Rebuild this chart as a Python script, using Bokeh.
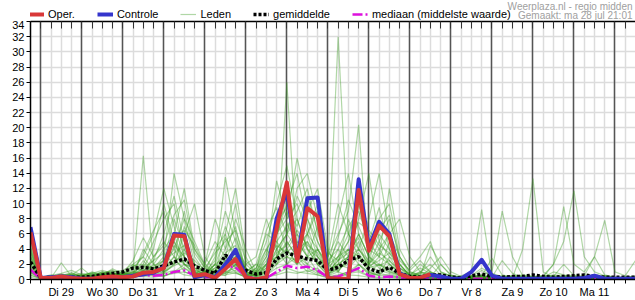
from bokeh.plotting import figure
from bokeh.layouts import column
from bokeh.models import (Range1d, FixedTicker, LinearAxis, Grid, Legend, LegendItem, Label)
from bokeh.embed import file_html
from bokeh.resources import INLINE

# 6-hourly steps; step 0 = ma 28 jul 18:00, step 1 = di 29 00:00, ...
n_steps = 60
steps = list(range(n_steps))
day_labels = ["Di 29", "Wo 30", "Do 31", "Vr 1", "Za 2", "Zo 3", "Ma 4",
              "Di 5", "Wo 6", "Do 7", "Vr 8", "Za 9", "Zo 10", "Ma 11"]
y_ticks = list(range(0, 35, 2))
legend_labels = ["Oper.", "Controle", "Leden", "gemiddelde", "mediaan (middelste waarde)"]
source_text = "Weerplaza.nl - regio midden"
made_text = "Gemaakt: ma 28 jul 21:01"

# values in groups: first step | one group of 4 steps per day | last 3 steps
def parse(s):
    return [float(t) for t in s.replace("|", " ").split()]

oper = parse("6.2 | 0.2 0.2 0.4 0.2 | 0.1 0.1 0.3 0.4 | 0.3 0.4 0.9 1.0 | 1.5 5.8 5.7 0.5 |"
             " 0.7 0.2 1.4 2.7 | 0.3 0.0 0.3 6.7 | 12.8 2.4 9.4 8.3 | 0.2 0.1 0.1 11.8 |"
             " 3.8 7.1 5.7 0.7 | 0.2 0.2 0.7")
controle = parse("6.9 | 0.2 0.3 0.4 0.3 | 0.1 0.1 0.1 0.2 | 0.3 0.5 0.7 0.9 | 1.6 6.0 5.9 0.3 |"
                 " 0.6 0.3 2.0 3.9 | 0.3 0.0 0.1 8.0 | 11.6 2.6 10.7 10.8 | 0.2 0.0 0.0 13.2 |"
                 " 4.2 7.6 6.0 0.8 | 0.2 0.2 0.6 0.4 | 0.1 0.1 1.0 2.6 | 0.5 0.1 0.1 0.1 |"
                 " 0.1 0.1 0.1 0.1 | 0.1 0.2 0.5 0.1 | 0.1 0.1 0.1")
gemiddelde = parse("2.3 | 0.2 0.3 0.4 0.3 | 0.3 0.4 0.6 0.8 | 1.0 1.5 1.6 1.4 | 1.8 2.3 2.7 1.8 |"
                   " 1.2 0.8 3.2 2.4 | 1.2 0.7 0.9 2.7 | 3.5 3.1 2.7 2.5 | 1.2 1.6 2.5 3.0 |"
                   " 1.4 1.0 1.6 0.8 | 0.4 0.3 0.6 0.6 | 0.3 0.2 0.5 0.7 | 0.4 0.3 0.4 0.4 |"
                   " 0.6 0.4 0.3 0.4 | 0.5 0.6 0.4 0.3 | 0.3 0.3 0.3")
mediaan = parse("1.3 | 0.1 0.1 0.2 0.1 | 0.1 0.1 0.2 0.3 | 0.3 0.4 0.6 0.5 | 0.6 1.0 1.2 0.5 |"
                " 0.3 0.3 1.8 1.6 | 0.4 0.1 0.2 1.0 | 1.8 1.5 1.7 1.2 | 0.3 0.4 0.9 1.5 |"
                " 0.5 0.3 0.4 0.3 | 0.1 0.1 0.1 0.1 | 0.0 0.0 0.1 0.1 | 0.1 0.1 0.1 0.1 |"
                " 0.1 0.1 0.1 0.1 | 0.1 0.1 0.1 0.1 | 0.1 0.1 0.1")

leden_txt = [
    "4.0 | 0.2 0.3 0.6 0.3 | 0.2 0.4 0.8 0.5 | 0.6 1.2 16.3 2.0 | 1.0 4.5 3.0 0.8 | 0.5 2.0 5.5 3.0 | 0.8 0.5 2.0 6.0 | 9.0 5.0 3.0 7.0 | 1.0 2.5 4.0 3.0 | 1.5 3.0 2.0 0.8 | 0.3 0.2 0.5 0.3 | 0.2 0.1 0.3 0.5 | 0.2 0.1 0.2 0.1 | 0.1 0.2 0.3 0.2 | 0.1 0.2 0.4 0.3 | 0.2 0.1 0.2",
    "5.0 | 0.1 0.2 2.2 0.4 | 0.2 0.3 0.5 0.6 | 0.8 0.5 0.9 1.5 | 3.0 14.0 8.0 2.0 | 1.0 0.6 2.0 4.0 | 1.5 0.3 0.8 3.0 | 26.0 4.0 6.0 2.0 | 0.5 1.0 3.0 6.0 | 3.0 2.0 1.5 0.5 | 0.3 1.0 2.0 0.6 | 0.2 0.3 0.4 0.2 | 0.1 0.2 0.3 0.2 | 0.2 0.1 0.1 0.2 | 0.1 0.3 0.2 0.1 | 0.1 0.1 0.2",
    "3.0 | 0.3 0.2 0.4 0.6 | 1.5 0.4 0.6 0.9 | 0.4 0.8 2.0 5.0 | 8.0 10.0 3.0 1.2 | 0.8 2.0 13.5 6.0 | 0.5 1.5 5.0 10.0 | 15.0 8.0 4.0 2.0 | 3.0 6.0 9.0 20.4 | 2.0 5.0 8.0 3.0 | 1.0 0.5 0.3 0.2 | 0.3 0.4 0.2 0.1 | 0.1 0.2 0.4 0.3 | 0.2 0.3 0.2 0.1 | 0.2 0.1 0.3 0.2 | 0.1 0.2 0.1",
    "2.0 | 0.2 0.4 0.3 0.8 | 0.4 1.0 0.6 0.4 | 0.3 0.5 1.0 0.8 | 2.0 6.0 12.0 4.0 | 1.5 1.0 3.0 2.0 | 0.4 0.6 3.0 13.0 | 8.0 16.0 10.0 5.0 | 2.0 32.0 6.0 4.0 | 8.0 14.0 6.0 2.0 | 0.5 0.8 1.0 0.4 | 0.2 0.5 1.0 9.2 | 0.5 0.3 0.2 0.1 | 0.1 0.2 0.3 0.1 | 0.2 0.1 0.1 0.2 | 0.1 0.2 0.3",
    "1.5 | 0.1 0.2 0.3 0.2 | 0.3 0.2 0.8 1.2 | 0.5 2.0 1.0 3.0 | 5.0 3.0 1.0 0.5 | 2.0 8.0 4.0 10.0 | 2.0 0.8 1.0 4.0 | 6.0 12.0 14.0 8.0 | 1.0 4.0 2.0 10.0 | 5.0 3.0 12.0 4.0 | 1.5 3.0 5.0 1.0 | 0.5 0.3 0.2 0.4 | 0.3 2.5 0.8 0.3 | 0.2 0.4 0.5 0.3 | 0.3 0.2 0.1 0.2 | 0.1 0.1 0.2",
    "3.5 | 0.2 0.3 0.5 0.4 | 0.6 0.3 0.4 0.7 | 1.0 0.6 4.0 2.0 | 1.0 2.0 6.0 10.0 | 3.0 1.0 0.5 2.0 | 1.0 2.0 6.0 5.0 | 3.0 2.0 9.0 12.0 | 4.0 1.0 0.5 2.0 | 1.0 0.5 2.0 1.0 | 0.3 0.4 4.5 2.0 | 0.5 0.3 0.4 0.6 | 1.0 9.0 3.0 0.5 | 0.3 0.2 0.4 2.0 | 0.5 0.3 0.2 0.4 | 0.2 0.3 0.5",
    "0.8 | 0.1 0.1 0.2 0.1 | 0.1 0.2 0.3 0.2 | 0.2 0.3 0.5 0.8 | 0.5 1.0 2.0 1.5 | 0.6 0.4 1.0 1.5 | 0.3 0.2 0.5 2.0 | 3.0 2.5 1.0 1.5 | 0.3 0.5 1.0 2.0 | 0.8 0.5 0.6 0.3 | 0.2 0.1 0.1 0.2 | 0.1 0.1 0.2 0.3 | 0.2 0.1 0.2 4.0 | 13.3 1.0 0.3 0.2 | 0.4 0.3 0.2 0.1 | 0.1 0.2 0.1",
    "2.5 | 0.3 0.5 0.4 0.6 | 0.8 0.5 1.0 0.6 | 0.5 1.5 3.0 1.2 | 2.5 8.0 4.0 1.0 | 0.5 3.0 9.0 5.0 | 1.0 0.5 1.5 6.0 | 11.0 6.0 4.0 3.0 | 1.5 8.0 14.0 6.0 | 3.0 6.0 4.0 1.5 | 0.5 1.0 0.6 0.3 | 0.2 0.2 0.3 0.2 | 0.2 0.3 0.5 0.4 | 0.3 0.5 2.0 5.0 | 11.7 3.0 1.0 0.5 | 0.3 0.4 0.3",
    "1.0 | 0.2 0.2 0.3 0.3 | 0.2 0.6 0.4 0.8 | 0.3 0.4 0.8 2.0 | 4.0 6.0 2.0 0.6 | 1.0 0.8 2.0 3.0 | 0.5 1.0 2.0 3.0 | 5.0 3.0 2.0 4.0 | 2.0 1.0 3.0 5.0 | 1.0 2.0 1.0 0.5 | 0.3 0.3 1.5 3.0 | 1.0 0.4 0.3 0.2 | 0.3 0.2 0.3 0.5 | 0.4 0.3 2.0 9.6 | 2.0 1.0 3.0 7.8 | 1.0 0.5 2.5",
    "4.5 | 0.2 0.3 0.4 0.2 | 0.3 0.4 1.0 0.5 | 0.8 0.6 1.5 4.0 | 10.0 5.0 2.0 0.8 | 0.6 1.5 4.0 7.0 | 0.8 0.3 2.0 8.0 | 4.0 6.0 3.0 1.0 | 0.5 3.0 5.0 12.0 | 6.0 4.0 2.0 1.0 | 0.4 0.3 0.5 0.8 | 0.5 0.3 0.2 0.3 | 0.2 0.3 0.2 0.2 | 0.3 0.2 0.1 0.2 | 0.3 0.4 0.2 0.2 | 0.2 0.1 0.2",
    "3.0 | 0.1 0.2 0.3 0.5 | 0.4 0.6 0.5 0.3 | 0.4 0.8 0.6 1.0 | 1.5 3.0 9.0 3.0 | 1.0 4.0 6.0 2.0 | 0.5 1.0 4.0 6.0 | 10.0 14.0 7.0 3.0 | 0.8 1.5 2.0 4.0 | 2.0 8.0 10.0 3.0 | 0.6 0.4 0.3 0.5 | 0.3 0.2 0.5 1.5 | 0.8 0.4 0.3 0.2 | 0.2 0.3 0.4 0.3 | 0.2 0.3 0.5 0.3 | 0.2 0.3 0.2",
    "2.0 | 0.3 0.2 0.2 0.4 | 0.6 0.8 0.5 0.4 | 0.3 0.5 2.5 1.0 | 0.8 2.0 4.0 1.5 | 0.4 0.5 1.0 4.0 | 2.0 3.0 8.0 4.0 | 2.0 3.0 5.0 2.0 | 0.6 2.0 1.5 3.0 | 1.0 0.6 3.0 2.0 | 0.5 2.0 1.0 0.3 | 0.2 0.1 0.3 0.6 | 0.4 0.3 0.2 0.3 | 0.4 0.5 0.3 0.2 | 0.3 0.2 0.4 0.5 | 0.3 0.2 0.3",
    "1.2 | 0.1 0.1 0.3 0.2 | 0.2 0.3 0.6 0.9 | 0.6 0.4 1.0 0.6 | 0.4 1.0 1.5 0.8 | 0.3 0.6 2.0 1.0 | 0.2 0.3 0.6 1.5 | 2.0 4.0 2.0 1.0 | 0.4 0.6 1.0 1.2 | 0.5 0.8 0.5 0.3 | 0.2 0.3 0.2 0.1 | 0.2 0.3 0.2 0.1 | 0.1 0.2 0.1 0.2 | 0.2 0.1 0.2 0.3 | 0.2 0.1 0.2 0.1 | 0.2 0.3 0.2",
    "0.5 | 0.2 0.3 0.2 0.3 | 0.4 0.2 0.3 0.4 | 0.3 0.4 0.6 0.5 | 0.8 1.2 0.6 0.4 | 0.3 0.5 0.8 1.2 | 0.4 0.2 0.4 0.8 | 1.5 1.0 0.8 0.6 | 0.3 0.4 0.8 1.0 | 0.4 0.3 0.4 0.2 | 0.1 0.2 0.2 0.1 | 0.1 0.2 0.1 0.2 | 0.1 0.1 0.2 0.1 | 0.1 0.2 0.1 0.1 | 0.2 0.1 0.1 0.2 | 0.1 0.1 0.1",
    "3.8 | 0.3 0.4 0.6 0.7 | 0.5 0.4 0.7 1.0 | 1.2 2.0 3.0 6.0 | 12.0 7.0 3.0 1.0 | 0.8 2.0 3.0 1.5 | 0.6 0.4 1.0 2.0 | 4.0 2.0 6.0 9.0 | 2.0 5.0 3.0 8.0 | 14.0 5.0 3.0 1.0 | 0.4 0.5 0.8 0.5 | 0.3 0.2 0.5 0.4 | 0.3 0.2 0.4 0.3 | 0.2 0.3 0.2 0.4 | 0.3 0.2 0.3 0.2 | 0.2 0.3 0.2",
    "6.0 | 0.2 0.5 0.8 1.2 | 0.6 0.8 1.2 0.8 | 0.6 1.0 0.8 1.5 | 2.0 4.0 8.0 5.0 | 2.0 1.0 6.0 12.0 | 3.0 0.5 1.0 5.0 | 7.0 9.0 12.0 6.0 | 3.0 10.0 6.0 3.0 | 2.0 4.0 6.0 8.0 | 3.0 1.0 0.5 0.3 | 0.2 0.3 0.2 0.3 | 0.2 0.3 0.5 0.4 | 0.3 0.4 0.6 0.5 | 0.4 0.3 0.5 0.4 | 0.3 0.2 0.3",
    "2.2 | 0.1 0.2 0.4 0.3 | 0.2 0.3 0.4 0.6 | 0.4 1.0 0.8 0.6 | 1.0 2.5 1.5 0.5 | 0.4 0.8 1.5 2.5 | 0.6 1.5 4.0 2.0 | 5.0 3.0 1.5 0.8 | 0.5 1.5 4.0 2.0 | 0.6 1.2 0.8 0.4 | 0.2 0.4 0.6 0.3 | 0.2 0.2 0.3 0.4 | 2.8 0.6 0.3 0.2 | 0.2 0.3 1.0 0.6 | 0.3 0.2 0.2 0.3 | 0.2 0.3 0.4",
    "1.8 | 0.2 0.1 0.2 0.4 | 0.3 0.5 0.3 0.5 | 0.8 0.6 1.2 2.5 | 6.0 11.0 5.0 2.0 | 1.0 0.6 0.8 2.0 | 1.0 2.0 1.0 3.0 | 6.0 4.0 8.0 4.0 | 1.0 2.0 8.0 4.0 | 2.0 1.0 5.0 2.0 | 0.5 0.3 0.4 0.2 | 0.3 0.2 0.1 0.2 | 0.1 0.2 0.4 0.6 | 0.4 0.3 0.2 0.1 | 0.2 0.3 0.2 0.1 | 0.1 0.2 0.1",
    "0.6 | 0.1 0.2 0.1 0.2 | 0.1 0.2 0.2 0.3 | 0.2 0.3 0.4 0.3 | 0.5 0.8 1.0 0.6 | 0.3 0.4 0.6 0.9 | 0.3 0.2 0.3 0.6 | 1.0 0.8 1.2 0.6 | 0.2 0.4 0.6 0.5 | 0.3 0.2 0.3 0.2 | 0.1 0.1 0.2 0.1 | 0.1 0.1 0.1 0.2 | 0.1 0.2 0.1 0.1 | 0.2 0.1 0.1 0.2 | 0.1 0.2 0.1 0.1 | 0.1 0.1 0.2",
    "4.2 | 0.3 0.3 0.5 0.4 | 0.3 0.5 0.8 0.6 | 0.5 0.7 1.5 2.5 | 3.5 2.0 7.0 4.0 | 2.0 5.0 3.0 8.0 | 4.0 1.0 3.0 6.0 | 8.0 10.0 6.0 4.0 | 1.5 3.0 6.0 10.0 | 4.0 3.0 6.0 3.0 | 1.0 0.6 0.4 0.3 | 0.2 0.3 0.2 0.4 | 0.3 0.5 0.3 0.2 | 0.2 0.3 0.2 0.3 | 0.2 0.4 0.3 0.2 | 0.3 0.2 0.2",
    "1.0 | 0.2 0.2 0.3 0.4 | 0.3 0.4 0.5 0.4 | 0.5 0.6 1.0 1.5 | 1.2 3.0 2.0 1.0 | 0.5 1.2 2.5 1.6 | 0.5 0.8 2.0 3.0 | 4.0 2.0 3.0 2.5 | 0.8 1.2 2.5 3.5 | 1.5 2.0 1.2 0.6 | 0.3 0.2 0.3 2.0 | 0.6 0.3 0.2 0.3 | 0.2 0.3 0.2 0.3 | 0.2 0.3 0.4 0.3 | 0.2 0.5 3.0 0.6 | 0.3 0.2 0.4",
    "2.8 | 0.2 0.4 0.5 0.3 | 0.4 0.3 0.6 0.8 | 0.6 0.5 0.8 1.0 | 2.0 5.0 3.0 0.8 | 0.6 2.0 1.0 0.8 | 0.4 0.6 1.5 4.0 | 6.0 8.0 4.0 2.0 | 1.0 2.0 3.0 6.0 | 3.0 1.5 1.0 0.6 | 0.4 0.8 3.0 1.0 | 0.4 0.3 0.2 0.3 | 0.2 0.1 0.2 0.3 | 0.3 0.2 0.3 0.2 | 0.3 0.2 0.3 0.2 | 0.2 0.3 0.2",
    "0.3 | 0.1 0.3 0.5 0.6 | 0.5 0.7 0.9 1.1 | 0.9 1.6 1.2 0.9 | 1.6 2.2 3.5 2.5 | 1.2 0.9 1.8 3.0 | 1.5 0.8 2.5 4.5 | 3.5 5.0 3.0 4.0 | 2.0 3.0 4.0 2.5 | 1.8 2.5 3.5 1.5 | 0.6 1.5 0.8 0.4 | 0.2 0.3 0.4 0.3 | 0.2 0.3 0.2 0.2 | 0.3 0.2 0.2 0.4 | 0.6 0.3 0.2 0.3 | 0.2 0.2 0.3",
    "3.2 | 0.2 0.2 0.3 0.3 | 0.2 0.4 0.6 0.5 | 0.7 1.0 1.8 1.2 | 1.0 1.8 2.5 1.2 | 0.8 1.5 2.5 1.8 | 0.6 0.5 1.2 2.5 | 3.0 4.0 5.0 3.0 | 1.2 2.0 3.0 4.0 | 2.5 1.8 2.5 1.2 | 0.5 0.4 0.6 0.4 | 0.3 0.2 0.4 1.2 | 0.5 0.3 0.2 0.3 | 0.2 0.3 0.3 0.2 | 0.2 0.6 0.4 0.3 | 0.2 0.2 0.2",
    "2.6 | 0.3 0.6 0.4 0.3 | 0.5 0.9 0.6 0.4 | 0.5 0.9 3.5 6.5 | 9.0 4.0 2.0 1.5 | 1.0 2.5 7.0 3.5 | 0.8 1.2 6.5 9.5 | 6.0 11.0 8.0 5.0 | 2.5 4.0 7.0 9.0 | 5.0 9.5 4.0 1.5 | 0.8 0.5 0.4 0.3 | 0.2 0.3 0.2 0.3 | 0.2 0.3 0.2 0.2 | 0.3 0.2 0.3 0.2 | 0.2 0.3 0.2 0.3 | 0.2 0.2 0.3",
    "1.6 | 0.2 0.2 0.5 0.9 | 0.4 0.3 0.6 1.4 | 0.8 2.5 5.5 3.0 | 4.5 8.5 10.5 3.5 | 1.5 3.5 5.0 6.5 | 2.5 1.0 3.5 7.5 | 9.5 7.0 11.0 6.5 | 1.5 5.5 10.5 7.0 | 4.0 6.5 8.5 2.5 | 1.2 2.5 1.0 0.5 | 0.3 0.2 0.3 0.2 | 0.2 0.4 0.3 0.2 | 0.2 0.3 0.2 0.3 | 0.3 0.2 0.4 0.2 | 0.3 0.2 0.2",
    "0.9 | 0.2 0.3 0.3 0.2 | 0.2 0.3 0.5 0.7 | 0.6 0.7 1.2 1.8 | 2.5 3.5 4.5 2.0 | 0.7 1.0 3.5 4.5 | 1.0 0.6 1.8 3.5 | 4.5 6.5 4.5 3.5 | 1.0 2.5 3.5 5.5 | 2.0 3.5 2.5 1.0 | 0.4 0.3 0.8 0.5 | 0.2 0.2 0.3 0.5 | 0.3 0.2 0.2 0.2 | 0.2 0.3 0.2 0.2 | 0.2 0.3 0.2 0.2 | 0.2 0.1 0.2",
    "3.6 | 0.2 0.4 0.7 0.5 | 0.3 0.4 0.5 0.6 | 0.6 1.8 2.0 1.5 | 2.5 5.5 6.5 4.5 | 1.8 0.8 2.5 5.5 | 1.5 0.4 1.0 2.5 | 7.5 4.5 6.0 10.0 | 3.5 2.5 5.0 7.5 | 6.5 4.5 3.5 2.0 | 0.5 0.4 0.3 0.6 | 0.3 0.2 0.2 0.3 | 0.4 0.3 0.2 0.2 | 0.2 0.2 0.3 0.4 | 0.3 0.2 0.2 0.3 | 0.2 0.3 0.2",
]
leden = [parse(s) for s in leden_txt]
for k, m in enumerate(leden):
    if len(m) != n_steps:
        raise SystemExit(f"member {k} has {len(m)} values")
for name, arr in [("controle", controle), ("gemiddelde", gemiddelde), ("mediaan", mediaan)]:
    if len(arr) != n_steps:
        raise SystemExit(f"{name} has {len(arr)} values")

FONT = "Liberation Sans"
C_OPER, C_CON, C_LED, C_MED = "#d93838", "#3535cc", "#3a9a20", "#dd11dd"
styles = [
    dict(line_color=C_OPER, line_width=4),
    dict(line_color=C_CON, line_width=4),
    dict(line_color=C_LED, line_alpha=0.4, line_width=1.2),
    dict(line_color="black", line_width=3.5, line_dash="3 2"),
    dict(line_color=C_MED, line_width=2.5, line_dash="10 3 2 3"),
]

# ---------- header strip: legend + source (frame is aligned with the chart's frame) ----------
head = figure(width=635, height=20, output_backend="svg", toolbar_location=None,
              x_range=Range1d(0, 1), y_range=Range1d(0, 1),
              x_axis_type=None, y_axis_type=None,
              min_border=0, min_border_left=30, min_border_right=0,
              min_border_top=0, min_border_bottom=0,
              background_fill_color="white", border_fill_color="white")
head.outline_line_color = None
head.xgrid.visible = False
head.ygrid.visible = False
items = []
for lab, st in zip(legend_labels, styles):
    # one-point swatch renderer (a single point draws no visible line)
    r = head.line([2], [2], **st)
    items.append(LegendItem(label=lab, renderers=[r]))
legend = Legend(items=items, orientation="horizontal", location=(-2, 0),
                label_text_font=FONT, label_text_font_size="11px", label_text_color="black",
                glyph_width=16, glyph_height=12, label_height=12, label_standoff=4, spacing=22,
                padding=0, margin=0, border_line_alpha=0, background_fill_alpha=0)
head.add_layout(legend)
head.add_layout(Label(x=602, y=20, x_units="screen", y_units="screen",
                      text=source_text, text_align="right", text_baseline="top",
                      text_font=FONT, text_font_size="10px", text_color="#a0a0a0"))
head.add_layout(Label(x=602, y=10.5, x_units="screen", y_units="screen",
                      text=made_text, text_align="right", text_baseline="top",
                      text_font=FONT, text_font_size="10px", text_color="#a0a0a0"))

# ---------- main chart ----------
p = figure(width=635, height=280, output_backend="svg", toolbar_location=None,
           x_range=Range1d(0, n_steps - 1), y_range=Range1d(0, 34),
           min_border_left=30, min_border_right=0, min_border_top=1, min_border_bottom=19,
           background_fill_color="white", border_fill_color="white")
p.outline_line_color = None

p.xgrid.ticker = FixedTicker(ticks=steps)
p.xgrid.grid_line_color = "#dcdcdc"
p.xgrid.grid_line_width = 1.5
p.ygrid.ticker = FixedTicker(ticks=y_ticks)
p.ygrid.grid_line_color = "#dcdcdc"
p.ygrid.grid_line_width = 1.5
day_starts = [1 + 4 * k for k in range(15)]
p.add_layout(Grid(dimension=0, ticker=FixedTicker(ticks=day_starts),
                  grid_line_color="#555555", grid_line_width=1.5))

x_label_map = {i: "" for i in steps}
for k, lab in enumerate(day_labels):
    x_label_map[3 + 4 * k] = lab
xa = p.xaxis[0]
xa.ticker = FixedTicker(ticks=steps)
xa.major_label_overrides = x_label_map
xa.major_tick_out = 4
xa.major_tick_in = 0
xa.minor_tick_line_color = None
xa.major_label_standoff = 2
xa.major_label_text_font = FONT
xa.major_label_text_font_size = "11px"
xa.major_label_text_color = "black"
xa.axis_line_width = 1.5
xa.axis_line_color = "black"

ya = p.yaxis[0]
ya.ticker = FixedTicker(ticks=y_ticks)
ya.major_tick_out = 4
ya.major_tick_in = 0
ya.minor_tick_line_color = None
ya.major_label_standoff = 2
ya.major_label_text_font = FONT
ya.major_label_text_font_size = "11px"
ya.major_label_text_color = "black"
ya.axis_line_width = 1.5
ya.axis_line_color = "black"

top = LinearAxis(ticker=FixedTicker(ticks=steps), major_tick_in=7, major_tick_out=0,
                 major_label_text_font_size="0px", major_label_standoff=0,
                 minor_tick_line_color=None, axis_line_color="black", axis_line_width=1.5,
                 major_tick_line_color="#333333")
top.major_label_overrides = {i: "" for i in steps}
p.add_layout(top, "above")

p.multi_line(xs=[steps] * len(leden), ys=leden, **styles[2])
p.line(steps, mediaan, **styles[4])
p.line(steps, gemiddelde, **styles[3])
p.line(steps, controle, line_join="round", **styles[1])
p.line(steps[:len(oper)], oper, line_join="round", **styles[0])

layout = column(head, p, spacing=0)
open("out.html", "w").write(file_html(layout, INLINE))
